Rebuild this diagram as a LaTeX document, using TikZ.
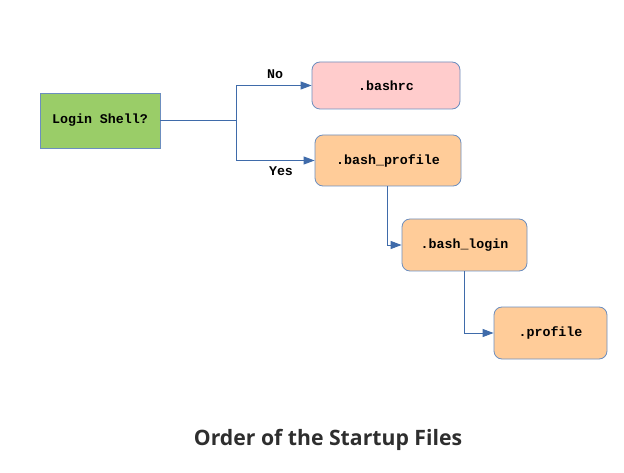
\documentclass[tikz,border=0pt]{standalone}
\usepackage{fontspec}
\setmonofont{Liberation Mono}
\newfontfamily\titlefont{Open Sans}
\usetikzlibrary{arrows.meta}
\definecolor{edgeblue}{HTML}{6C8EBF}
\definecolor{arrowblue}{HTML}{3F6BAA}
\definecolor{greenfill}{HTML}{9ACD68}
\definecolor{pinkfill}{HTML}{FFCCCC}
\definecolor{orangefill}{HTML}{FFCC99}
\definecolor{titlegray}{HTML}{2E2E2E}
\tikzset{
  filebox/.style={draw=edgeblue, line width=0.8pt, rounded corners=8pt, minimum height=#1, inner sep=0pt, font=\ttfamily\bfseries\fontsize{13.3}{15}\selectfont},
  decisionbox/.style={draw=edgeblue, fill=greenfill, line width=0.8pt, inner sep=0pt, font=\ttfamily\bfseries\fontsize{13.3}{15}\selectfont},
  conn/.style={draw=arrowblue, line width=0.9pt, -{Triangle[width=8pt,length=11pt]}},
  lbl/.style={font=\ttfamily\bfseries\fontsize{13.3}{15}\selectfont, inner sep=0pt},
}
\begin{document}
\begin{tikzpicture}[x=1pt,y=-1pt]
\useasboundingbox (0,0) rectangle (624,473);
\node[decisionbox, minimum width=120pt, minimum height=55pt] (login) at (100,120.5) {Login Shell?};
\node[filebox=47pt, fill=pinkfill, minimum width=148pt] (bashrc) at (386,85.5) {.bashrc};
\node[filebox=51pt, fill=orangefill, minimum width=146pt] (bprofile) at (388,160.5) {.bash\_profile};
\node[filebox=52pt, fill=orangefill, minimum width=125pt] (blogin) at (464.5,245) {.bash\_login};
\node[filebox=52pt, fill=orangefill, minimum width=113pt] (profile) at (550.5,333) {.profile};
\coordinate (split) at (236,120.5);
\draw[draw=arrowblue, line width=0.9pt] (login.east) -- (split);
\draw[conn] (split) |- (bashrc.west);
\draw[conn] (split) |- (bprofile.west);
\node[lbl] (no) at (275,74) {No};
\node[lbl] (yes) at (281,171) {Yes};
\draw[conn] (bprofile.south -| 387,0) |- (blogin.west);
\draw[conn] (blogin.south) |- (profile.west);
\node[font=\titlefont\bfseries\fontsize{21.2}{25}\selectfont, text=titlegray] (title) at (328,440) {Order of the Startup Files};
\end{tikzpicture}
\end{document}
